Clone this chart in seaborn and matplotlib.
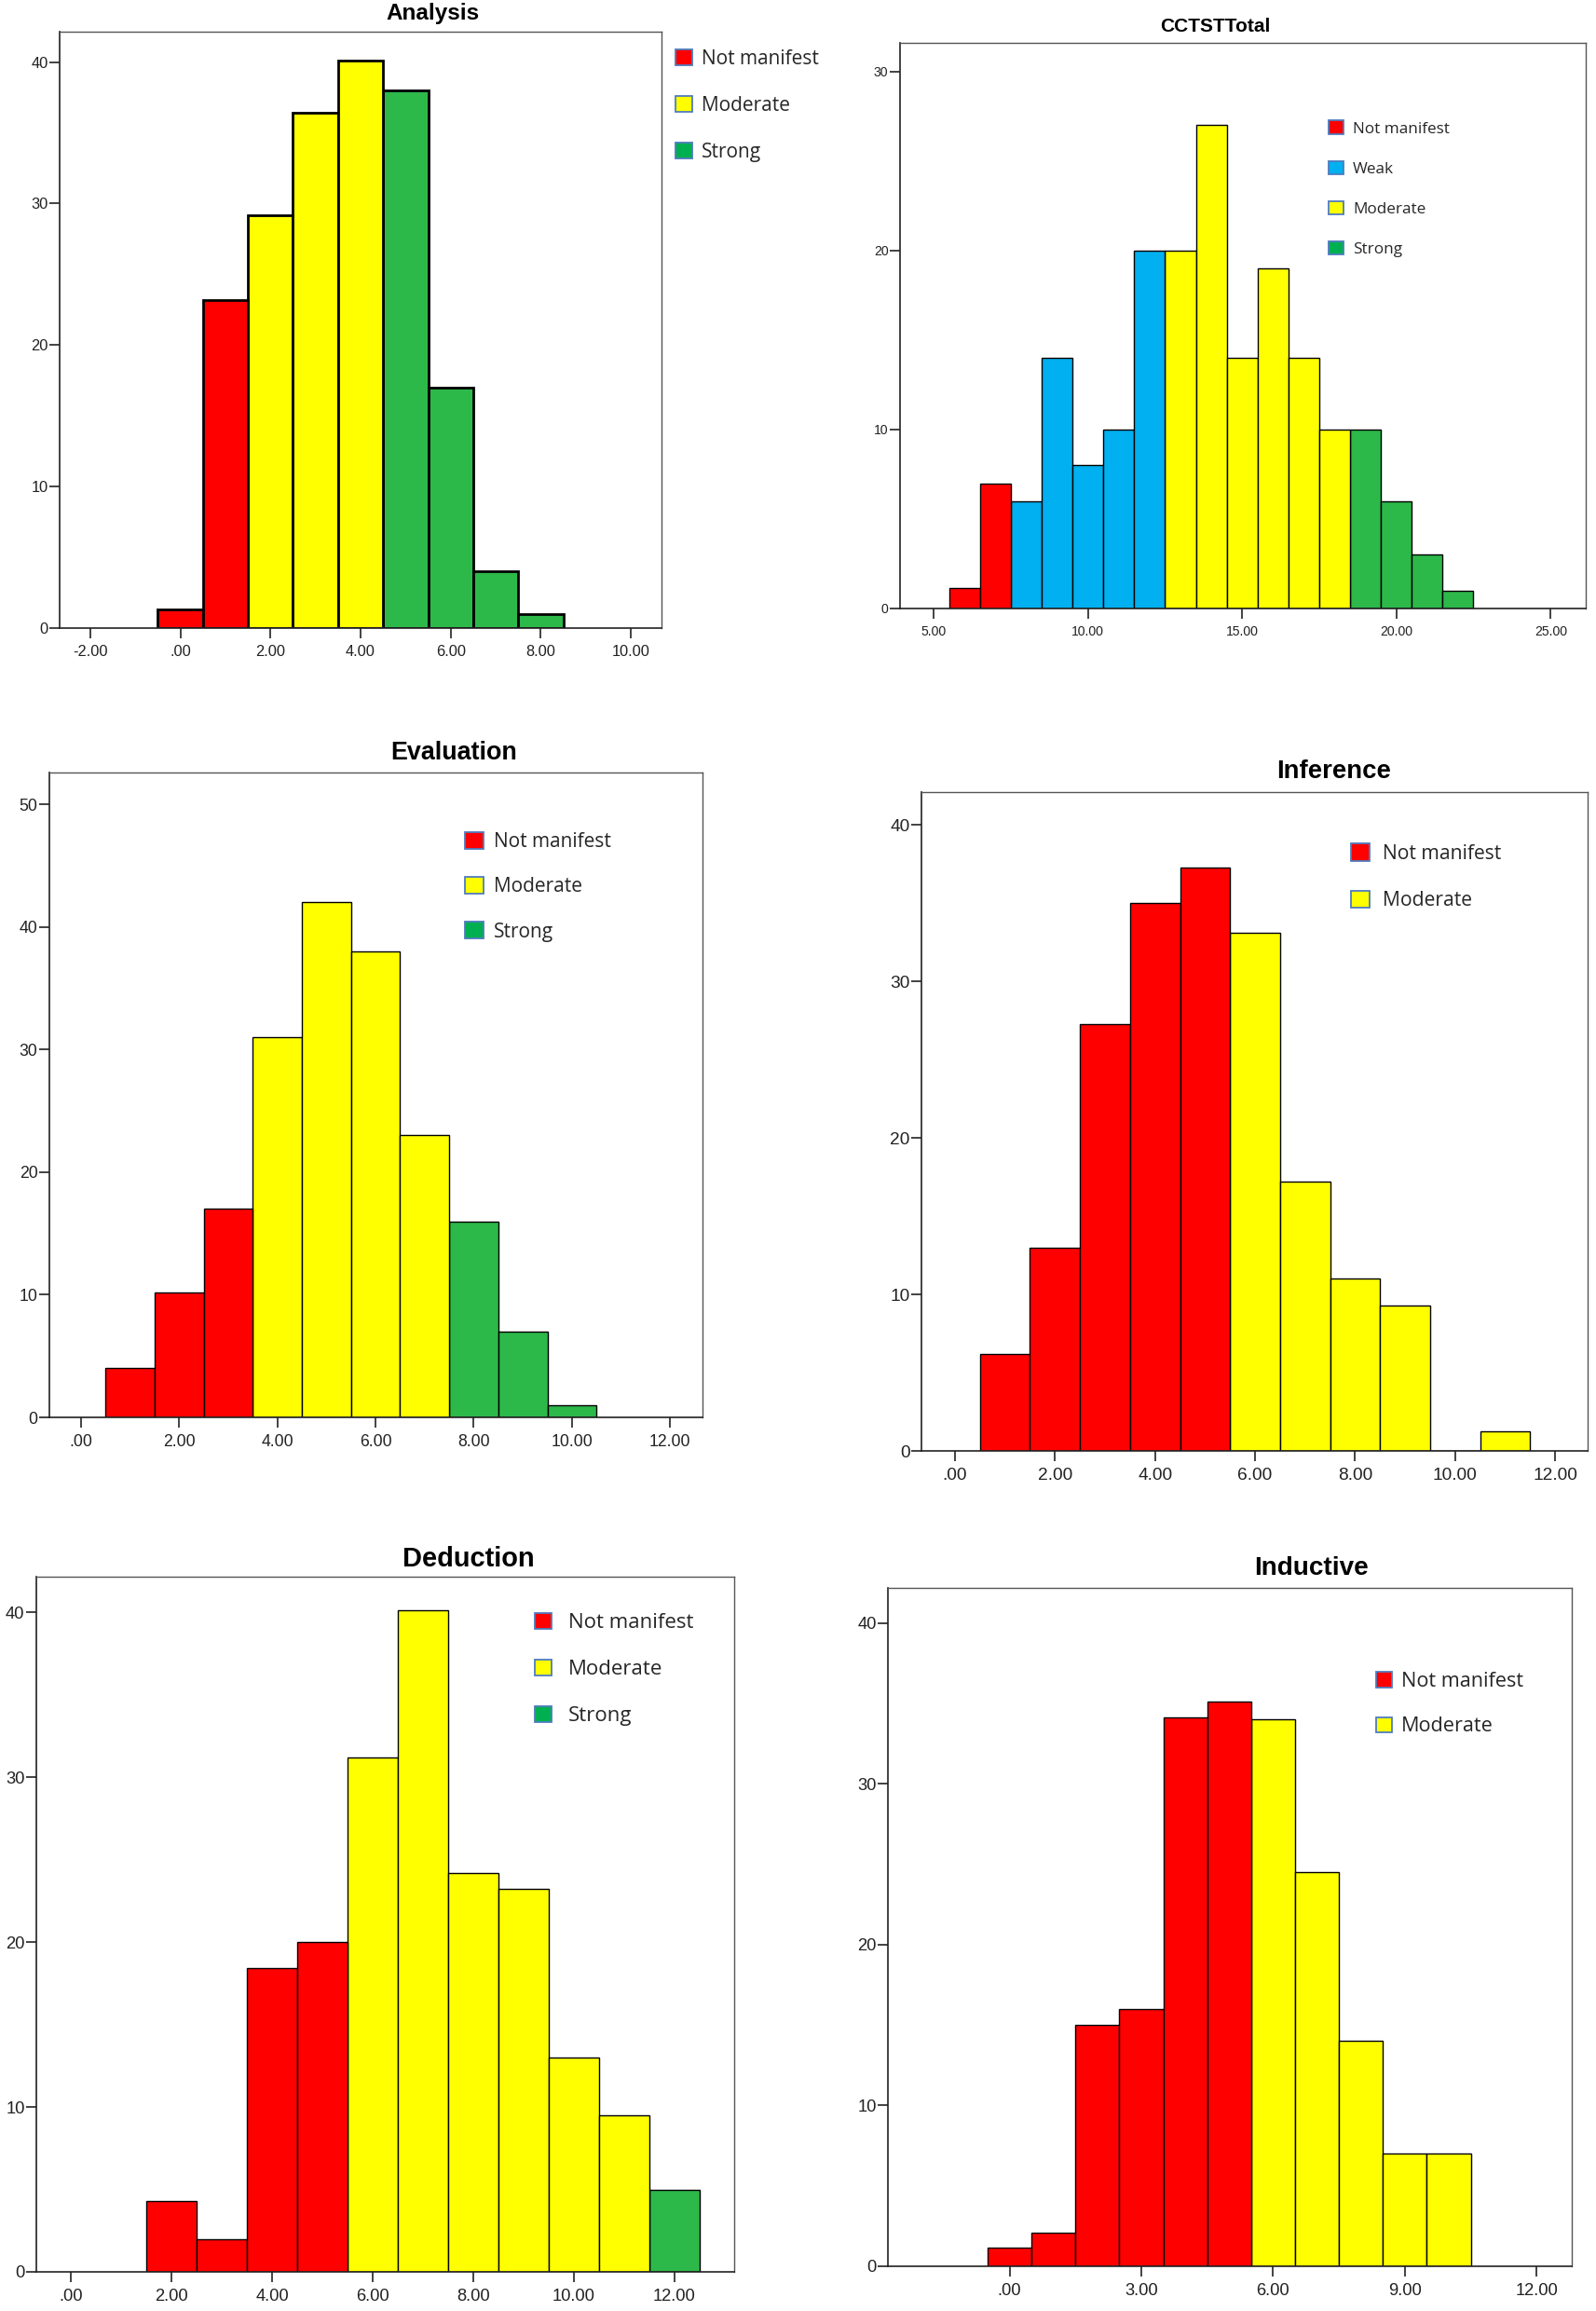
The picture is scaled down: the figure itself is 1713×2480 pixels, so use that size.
import numpy as np
import pandas as pd
import seaborn as sns
import matplotlib.pyplot as plt
from matplotlib.patches import Patch
from matplotlib.ticker import FuncFormatter

NM, WK, MO, ST = 'Not manifest', 'Weak', 'Moderate', 'Strong'

# ---- data (bin centre -> frequency) ----
analysis_scores = [0, 1, 2, 3, 4, 5, 6, 7, 8]
analysis_counts = [1.3, 23.2, 29.2, 36.4, 40.1, 38, 17, 4, 1]
analysis_levels = [NM, NM, MO, MO, MO, ST, ST, ST, ST]

cctst_scores = list(range(6, 23))
cctst_counts = [1.15, 7, 6, 14, 8, 10, 20, 20, 27, 14, 19, 14, 10, 10, 6, 3, 1]
cctst_levels = [NM, NM, WK, WK, WK, WK, WK, MO, MO, MO, MO, MO, MO, ST, ST, ST, ST]

evaluation_scores = [1, 2, 3, 4, 5, 6, 7, 8, 9, 10]
evaluation_counts = [4, 10.2, 17, 31, 42, 38, 23, 16, 7, 1]
evaluation_levels = [NM, NM, NM, MO, MO, MO, MO, ST, ST, ST]

inference_scores = [1, 2, 3, 4, 5, 6, 7, 8, 9, 10, 11]
inference_counts = [6.2, 13, 27.3, 35, 37.3, 33.1, 17.2, 11, 9.3, 0, 1.25]
inference_levels = [NM, NM, NM, NM, NM, MO, MO, MO, MO, MO, MO]

deduction_scores = [2, 3, 4, 5, 6, 7, 8, 9, 10, 11, 12]
deduction_counts = [4.3, 2, 18.4, 20, 31.2, 40.1, 24.2, 23.2, 13, 9.5, 5]
deduction_levels = [NM, NM, NM, NM, MO, MO, MO, MO, MO, MO, ST]

inductive_scores = [0, 1, 2, 3, 4, 5, 6, 7, 8, 9, 10]
inductive_counts = [1.15, 2.1, 15, 16, 34.1, 35.1, 34, 24.5, 14, 7, 7]
inductive_levels = [NM, NM, NM, NM, NM, NM, MO, MO, MO, MO, MO]

bar_pal = {NM: '#FF0000', WK: '#00B0F0', MO: '#FFFF00', ST: '#2DB84A'}
key_pal = {NM: '#FF0000', WK: '#00B0F0', MO: '#FFFF00', ST: '#00B050'}

sns.set_theme(style='white')
plt.rcParams['font.family'] = ['Liberation Sans', 'DejaVu Sans']

W, H = 1713, 2480
fig = plt.figure(figsize=(W / 100, H / 100), dpi=100)


def px_axes(l, t, r, b):
    return fig.add_axes([l / W, 1 - b / H, (r - l) / W, (b - t) / H])


def spss_fmt(v, pos):
    s = '%.2f' % v
    if s.startswith('0.'):
        s = s[1:]
    return s


def hist_panel(ax, scores, counts, levels, lw):
    df = pd.DataFrame({'score': scores, 'count': counts, 'level': levels})
    order = [lv for lv in [NM, WK, MO, ST] if lv in levels]
    sns.histplot(data=df, x='score', weights='count', hue='level', hue_order=order,
                 binwidth=1, binrange=(min(scores) - 0.5, max(scores) + 0.5),
                 palette=bar_pal, alpha=1, edgecolor='black',
                 linewidth=lw, legend=False, ax=ax)
    return order


panels = [
    dict(title='Analysis', data=(analysis_scores, analysis_counts, analysis_levels),
         box=(64, 34, 710, 674), xlim=(-2.68, 10.68), ylim=(0, 42.15),
         xticks=np.arange(-2, 11, 2), yticks=[0, 10, 20, 30, 40], lw=2.0, ts=11.8,
         tpos=(464, 15, 17.5), leg=(725, 63, 15, 50, 18, 10)),
    dict(title='CCTSTTotal', data=(cctst_scores, cctst_counts, cctst_levels),
         box=(966, 46, 1702, 653), xlim=(3.91, 26.14), ylim=(0, 31.6),
         xticks=np.arange(5, 26, 5), yticks=[0, 10, 20, 30], lw=1.0, ts=10.1,
         tpos=(1304, 28, 15), leg=(1426, 138, 12.3, 43, 16, 10)),
    dict(title='Evaluation', data=(evaluation_scores, evaluation_counts, evaluation_levels),
         box=(53, 829, 754, 1521), xlim=(-0.645, 12.66), ylim=(0, 52.6),
         xticks=np.arange(0, 13, 2), yticks=[0, 10, 20, 30, 40, 50], lw=1.0, ts=12.7,
         tpos=(487, 808, 19.4), leg=(499, 903, 15, 48, 20, 11)),
    dict(title='Inference', data=(inference_scores, inference_counts, inference_levels),
         box=(989, 850, 1704, 1557), xlim=(-0.67, 12.65), ylim=(0, 42.1),
         xticks=np.arange(0, 13, 2), yticks=[0, 10, 20, 30, 40], lw=1.0, ts=13.8,
         tpos=(1432, 828, 19.8), leg=(1450, 916, 15.2, 50, 20, 14)),
    dict(title='Deduction', data=(deduction_scores, deduction_counts, deduction_levels),
         box=(39, 1692, 788, 2438), xlim=(-0.69, 13.19), ylim=(0, 42.15),
         xticks=np.arange(0, 13, 2), yticks=[0, 10, 20, 30, 40], lw=1.0, ts=13.2,
         tpos=(503, 1673, 20.9), leg=(574, 1742, 16, 51, 18, 18)),
    dict(title='Inductive', data=(inductive_scores, inductive_counts, inductive_levels),
         box=(953, 1704, 1687, 2432), xlim=(-2.77, 12.8), ylim=(0, 42.18),
         xticks=np.arange(0, 13, 3), yticks=[0, 10, 20, 30, 40], lw=1.0, ts=13.2,
         tpos=(1408, 1683, 20.1), leg=(1477, 1805, 15.6, 49, 17, 9.5)),
]

for p in panels:
    ax = px_axes(*p['box'])
    order = hist_panel(ax, *p['data'], p['lw'])
    ax.set_xlim(*p['xlim'])
    ax.set_ylim(*p['ylim'])
    ax.set_xticks(p['xticks'])
    ax.set_yticks(p['yticks'])
    ax.xaxis.set_major_formatter(FuncFormatter(spss_fmt))
    ax.set_xlabel('')
    ax.set_ylabel('')
    for side in ['top', 'right']:
        ax.spines[side].set_color('#555555')
        ax.spines[side].set_linewidth(1.0)
    for side in ['left', 'bottom']:
        ax.spines[side].set_color('#222222')
        ax.spines[side].set_linewidth(1.2)
    ax.tick_params(axis='both', direction='out', length=8, width=1.2,
                   color='#222222', labelcolor='#222222', labelsize=p['ts'],
                   bottom=True, left=True)
    ax.tick_params(axis='y', pad=1)
    ax.tick_params(axis='x', pad=5)

    tx, ty, tsz = p['tpos']
    fig.text(tx / W, 1 - ty / H, p['title'], ha='center', va='center',
             fontsize=tsz, fontweight='bold', color='black')

    # legend: marker left x, first row centre y, font size, row pitch, marker size, gap (px)
    lx, ly, lfs, lsp, lmk, lgap = p['leg']
    em = lfs * 100 / 72
    row_h = max(lmk, em)
    handles = [Patch(facecolor=key_pal[lv], edgecolor='#4F7CBE', linewidth=1.3) for lv in order]
    fig.legend(handles, order, loc='upper left',
               bbox_to_anchor=(lx / W, 1 - (ly - row_h / 2) / H),
               bbox_transform=fig.transFigure, frameon=False,
               borderpad=0, borderaxespad=0,
               handlelength=lmk / em, handleheight=lmk / em,
               handletextpad=lgap / em, labelspacing=(lsp - row_h) / em,
               prop={'family': 'Open Sans', 'size': lfs})

fig.savefig('out.png', dpi=100, facecolor='white')
